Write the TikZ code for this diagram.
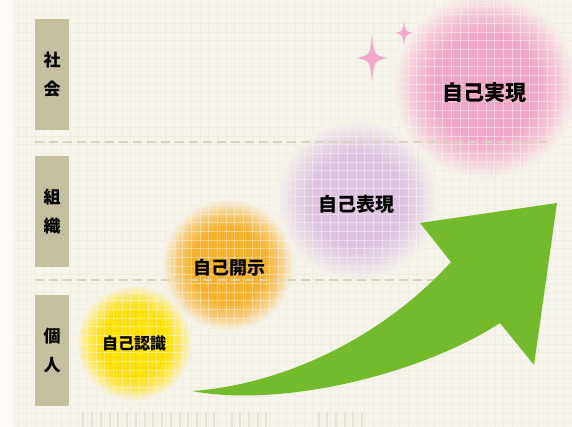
\documentclass[tikz,border=0pt]{standalone}
\usepackage{fontspec}
\newfontfamily\jp{Noto Sans CJK JP}
\usetikzlibrary{fadings,positioning}

\definecolor{paper}{HTML}{F7F4EB}
\definecolor{margin}{HTML}{FCFBF8}
\definecolor{gridc}{HTML}{EFECE2}
\definecolor{tickc}{HTML}{E6E2D5}
\definecolor{boxtan}{HTML}{C4BF9F}
\definecolor{dashc}{HTML}{D8D3BD}
\definecolor{leaf}{HTML}{74BA2D}
\definecolor{sakura}{HTML}{F2A8CC}
\definecolor{lemon}{HTML}{FFE000}
\definecolor{amber}{HTML}{F6B12C}
\definecolor{lilac}{HTML}{DCC2DF}
\definecolor{rose}{HTML}{F0A6C8}

\pgfdeclareradialshading{blobshading}{\pgfpointorigin}{color(0bp)=(white); color(14bp)=(white); color(20bp)=(white!55!black); color(25bp)=(black); color(50bp)=(black)}
\pgfdeclarefading{blob}{\pgfuseshading{blobshading}}

\newcommand{\sparkle}[4]{%
  \fill[sakura] (#1,#2-#4) .. controls (#1+#3*0.13,#2-#4*0.13) .. (#1+#3,#2)
    .. controls (#1+#3*0.13,#2+#4*0.13) .. (#1,#2+#4)
    .. controls (#1-#3*0.13,#2+#4*0.13) .. (#1-#3,#2)
    .. controls (#1-#3*0.13,#2-#4*0.13) .. cycle;}

% faint white grid over one blob
\newcommand{\blobgrid}[2]{%
  \begin{scope}[scope fading=blob, fading transform={shift={(#1)}, scale=#2/25}]
    \clip (#1) circle (#2pt);
    \foreach \gx in {18.03,26.7,...,572} \draw[white, opacity=0.4, line width=0.8pt] (\gx,0) -- (\gx,427);
    \foreach \gy in {6,14.67,...,427} \draw[white, opacity=0.4, line width=0.8pt] (13,\gy) -- (572,\gy);
  \end{scope}}

\begin{document}
\begin{tikzpicture}[%
    x=1pt, y=-1pt,
    tagbox/.style={fill=boxtan, minimum width=34pt, minimum height=111pt,
      inner sep=0pt, align=center, font=\jp\bfseries\fontsize{17}{29}\selectfont},
    blobtext/.style={font=\jp\bfseries\fontsize{#1}{#1}\selectfont, inner sep=0pt},
    gridline/.style={gridc, line width=0.7pt},
    divider/.style={dashc, line width=1.6pt, dash pattern=on 9pt off 5pt}
  ]
  \useasboundingbox (0,0) rectangle (572,427);
  \fill[margin] (0,0) rectangle (572,427);
  \fill[paper] (13,0) rectangle (572,427);

  % paper grid
  \foreach \gx in {18.03,26.7,...,572} \draw[gridline] (\gx,0) -- (\gx,427);
  \foreach \gy in {6,14.67,...,427} \draw[gridline] (13,\gy) -- (572,\gy);
  \foreach \tx in {83,92,101,110,118,127,136,145,153,162,171,180,188,197,206,214,
      232,240,249,258,266,319,327,336,345,353,362}
    \draw[tickc, line width=1.2pt] (\tx,412) -- (\tx,427);

  % blobs
  \coordinate (c1) at (134,343);
  \coordinate (c2) at (228,265);
  \coordinate (c3) at (357,200);
  \coordinate (c4) at (485,86);
  \fill[lemon, path fading=blob] (c1) circle (58pt);
  \fill[amber, path fading=blob] (c2) circle (66pt);
  \fill[lilac, path fading=blob] (c3) circle (80pt);
  \fill[rose, path fading=blob] (c4) circle (92pt);
  \blobgrid{c1}{58}
  \blobgrid{c2}{66}
  \blobgrid{c3}{80}
  \blobgrid{c4}{92}

  % dividers
  \draw[divider] (35,142) -- (552,142);
  \draw[divider] (35,280) -- (552,280);

  % levels
  \node[tagbox] (shakai) at (52,74.5) {社\\会};
  \node[tagbox] (soshiki) at (52,211.5) {組\\織};
  \node[tagbox] (kojin) at (52,350.5) {個\\人};

  % sparkles
  \sparkle{372}{58}{15}{24}
  \sparkle{404}{33}{9}{13}

  % arrow
  \fill[leaf] (192,391) .. controls (280,408) and (420,375) .. (500,323)
    -- (534,365) -- (557,203) -- (420,223) -- (451,262)
    .. controls (380,340) and (280,385) .. cycle;

  \node[blobtext=16] (ninshiki) at (c1) {自己認識};
  \node[blobtext=18] (kaiji) at (229,268) {自己開示};
  \node[blobtext=19] (hyogen) at (356,204) {自己表現};
  \node[blobtext=21] (jitsugen) at (484,93) {自己実現};
\end{tikzpicture}
\end{document}
